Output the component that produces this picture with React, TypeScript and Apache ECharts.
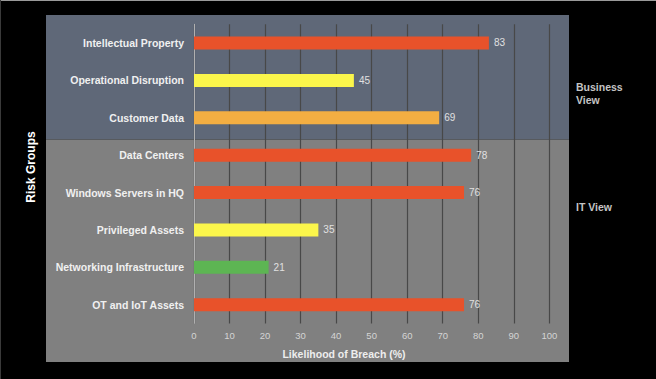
import React, { useEffect, useRef } from "react";
import * as echarts from "echarts";

const categories = [
  "Intellectual Property",
  "Operational Disruption",
  "Customer Data",
  "Data Centers",
  "Windows Servers in HQ",
  "Privileged Assets",
  "Networking Infrastructure",
  "OT and IoT Assets",
];
const values = [83, 45, 69, 78, 76, 35, 21, 76];
const barColors = ["#e8522a", "#fbf64b", "#f3ae42", "#e8522a", "#e8522a", "#fbf64b", "#5db553", "#e8522a"];
const xTicks = { min: 0, max: 100, interval: 10 };
const groupLabels = ["Business\nView", "IT View"];

const FONT = "'Liberation Sans', Arial, Helvetica, sans-serif";

export default function App() {
  const ref = useRef<HTMLDivElement>(null);
  useEffect(() => {
    document.body.style.margin = "0";
    const chart = echarts.init(ref.current!, null, { renderer: "svg" });
    chart.setOption({
      animation: false,
      backgroundColor: "#000000",
      textStyle: { fontFamily: FONT },
      grid: { left: 194, right: 106.7, top: 24.3, bottom: 55.6, containLabel: false },
      xAxis: {
        type: "value",
        min: xTicks.min,
        max: xTicks.max,
        interval: xTicks.interval,
        axisLine: { show: false },
        axisTick: { show: false },
        axisLabel: { color: "#d4d4d4", fontSize: 9.5, margin: 7, fontFamily: FONT },
        splitLine: { show: true, lineStyle: { color: "#484848", width: 1.2 } },
      },
      yAxis: {
        type: "category",
        data: categories,
        inverse: true,
        axisLine: { show: true, lineStyle: { color: "#b0b0b0", width: 1 } },
        axisTick: { show: false },
        axisLabel: { color: "#f0f0f0", fontSize: 10.5, fontWeight: "bold", margin: 10, fontFamily: FONT },
        splitLine: { show: false },
      },
      graphic: [
        { type: "rect", z: -10, shape: { x: 46, y: 15, width: 523, height: 124.5 }, style: { fill: "#5f6878" } },
        { type: "rect", z: -10, shape: { x: 46, y: 139.5, width: 523, height: 222.5 }, style: { fill: "#808080" } },
        { type: "line", z: -5, shape: { x1: 0, y1: 0.5, x2: 656, y2: 0.5 }, style: { stroke: "#9a9a9a", lineWidth: 1 } },
        { type: "line", z: -5, shape: { x1: 0.5, y1: 0, x2: 0.5, y2: 379 }, style: { stroke: "#3a3a3a", lineWidth: 1 } },
        {
          type: "text",
          x: 576,
          y: 80,
          style: { text: groupLabels[0], fill: "#c4c4c4", font: `bold 10.5px ${FONT}`, lineHeight: 13, textVerticalAlign: "top" },
        },
        {
          type: "text",
          x: 576,
          y: 201,
          style: { text: groupLabels[1], fill: "#c4c4c4", font: `bold 10.5px ${FONT}`, textVerticalAlign: "top" },
        },
        {
          type: "text",
          x: 344,
          y: 354,
          style: { text: "Likelihood of Breach (%)", fill: "#eeeeee", font: `bold 10.5px ${FONT}`, textAlign: "center", textVerticalAlign: "middle" },
        },
        {
          type: "text",
          x: 31,
          y: 167,
          rotation: Math.PI / 2,
          style: { text: "Risk Groups", fill: "#ffffff", font: `bold 12px ${FONT}`, textAlign: "center", textVerticalAlign: "middle" },
        },
      ],
      series: [
        {
          type: "bar",
          data: values.map((v, i) => ({ value: v, itemStyle: { color: barColors[i] } })),
          barWidth: 13,
          label: {
            show: true,
            position: "right",
            distance: 5,
            color: "#e0e0e0",
            fontSize: 10,
            fontFamily: FONT,
          },
        },
      ],
    });
    return () => chart.dispose();
  }, []);
  return <div ref={ref} style={{ position: "fixed", left: 0, top: 0, width: 656, height: 379 }} />;
}
